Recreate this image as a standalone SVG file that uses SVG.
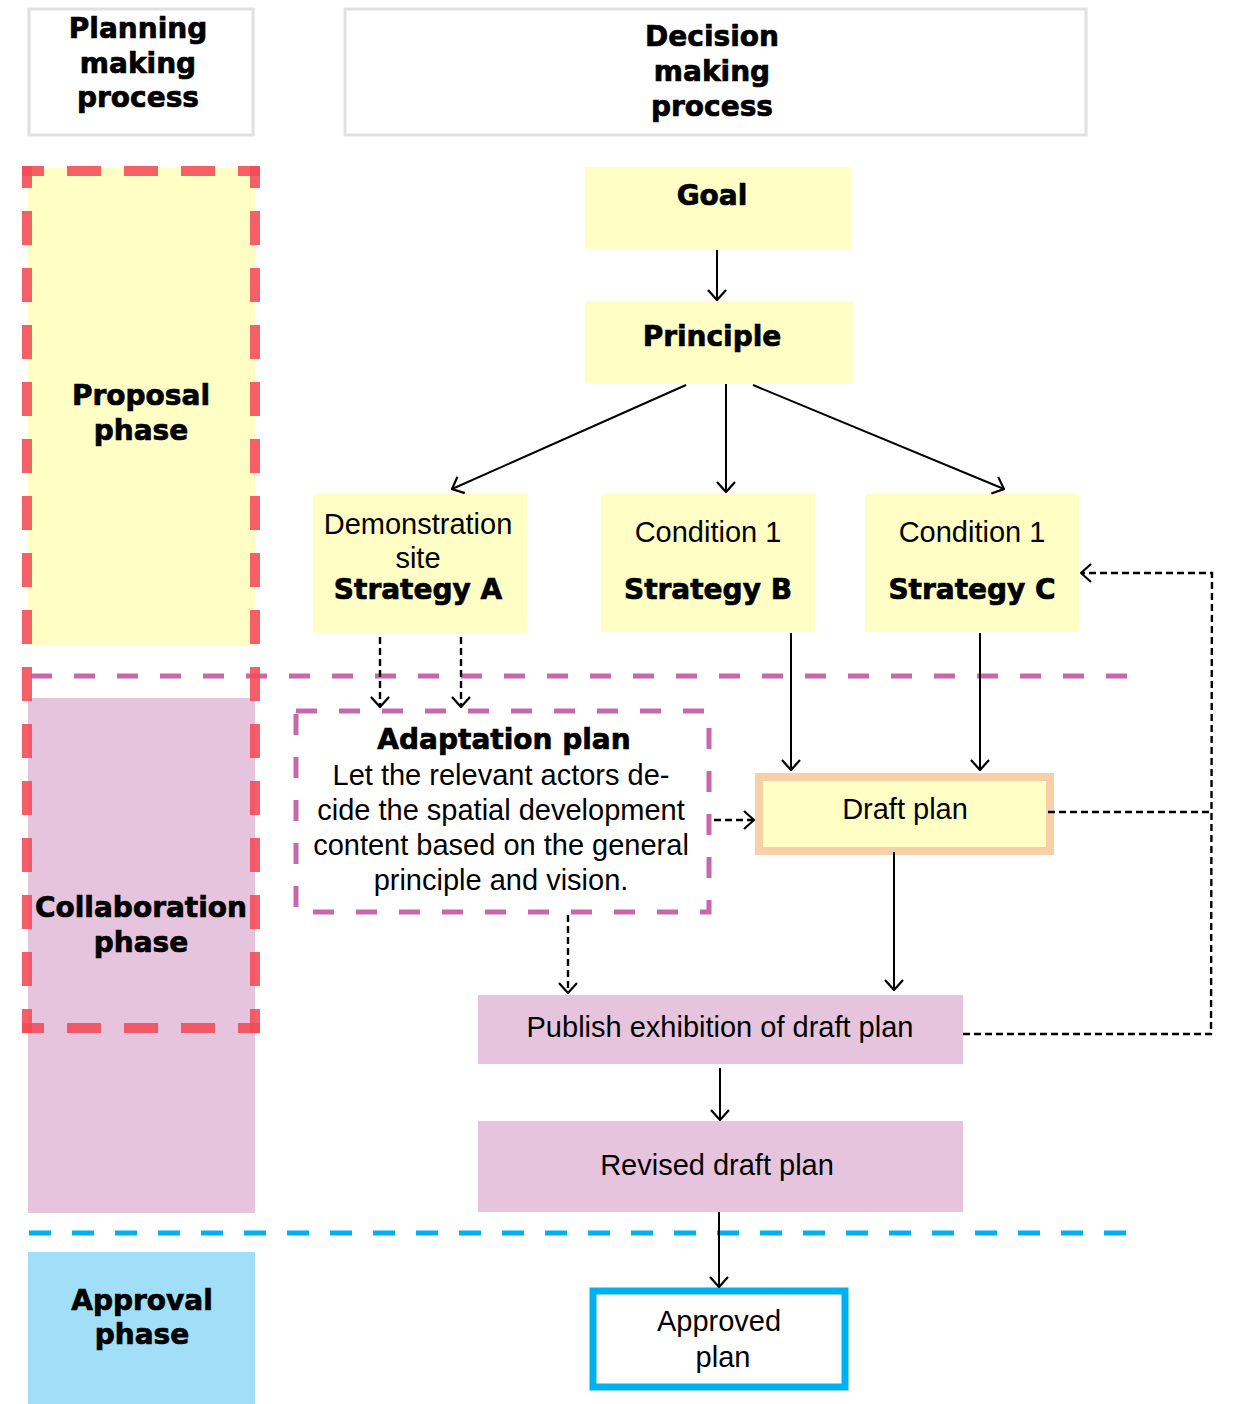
<svg xmlns="http://www.w3.org/2000/svg" width="1233" height="1404" viewBox="0 0 1233 1404">
<defs>
<style>
.hdr{fill:#fff;stroke:#e0e0e0;stroke-width:3}
.b{font-family:"DejaVu Sans",sans-serif;font-weight:bold;font-size:28px;fill:#000;stroke:#000;stroke-width:0.7;text-anchor:middle}
.r{font-family:"Liberation Sans",Arial,sans-serif;font-size:29px;fill:#000;text-anchor:middle}
.yel{fill:#ffffc5}
.pink{fill:#e7c4de}
.red{stroke:#f24a55;stroke-opacity:0.88;stroke-width:10;stroke-dasharray:34 23;stroke-dashoffset:12;fill:none}
.pur{stroke:#c868ac;stroke-width:5;stroke-dasharray:21 22;fill:none}
.c{stroke:#000;stroke-width:2;fill:none}
.d{stroke:#000;stroke-width:2.4;fill:none;stroke-dasharray:7 4}
.a{marker-end:url(#ah)}
</style>
<marker id="ah" viewBox="0 0 12 20" refX="11" refY="10" markerWidth="12" markerHeight="20" markerUnits="userSpaceOnUse" orient="auto">
<path d="M1,1 L11,10 L1,19" fill="none" stroke="#000" stroke-width="2.2"/>
</marker>
</defs>

<g id="phases">
<rect x="28" y="168" width="227" height="478" fill="#ffffc5"/>
<rect x="28" y="698" width="227" height="515" fill="#e7c4de"/>
<rect x="28" y="1252" width="227" height="152" fill="#a0dff7"/>
<line x1="31" y1="676" x2="1130" y2="676" class="pur"/>
<line x1="29" y1="1233" x2="1130" y2="1233" stroke="#00b0f0" stroke-width="5" stroke-dasharray="22 21"/>
<line x1="22" y1="171" x2="260" y2="171" class="red"/>
<line x1="22" y1="1028" x2="260" y2="1028" class="red"/>
<line x1="27" y1="166" x2="27" y2="1033" class="red"/>
<line x1="255" y1="166" x2="255" y2="1033" class="red"/>
</g>

<g id="header-planning">
<rect x="29" y="9" width="224" height="126" class="hdr"/>
<text class="b" x="138" y="38">Planning</text>
<text class="b" x="138" y="73">making</text>
<text class="b" x="138" y="107">process</text>
</g>
<g id="header-decision">
<rect x="345" y="9" width="741" height="126" class="hdr"/>
<text class="b" x="712" y="46">Decision</text>
<text class="b" x="712" y="81">making</text>
<text class="b" x="712" y="116">process</text>
</g>

<g id="label-proposal">
<text class="b" x="141" y="405">Proposal</text>
<text class="b" x="141" y="440">phase</text>
</g>
<g id="label-collaboration">
<text class="b" x="141" y="917">Collaboration</text>
<text class="b" x="141" y="952">phase</text>
</g>
<g id="label-approval">
<text class="b" x="142" y="1310">Approval</text>
<text class="b" x="142" y="1344">phase</text>
</g>

<g id="goal">
<rect x="585" y="167" width="267" height="82" class="yel"/>
<text class="b" x="712" y="205">Goal</text>
</g>
<g id="principle">
<rect x="585" y="301" width="268" height="82" class="yel"/>
<text class="b" x="712" y="346">Principle</text>
</g>
<g id="strategy-a">
<rect x="313" y="494" width="214" height="139" class="yel"/>
<text class="r" x="418" y="534">Demonstration</text>
<text class="r" x="418" y="568">site</text>
<text class="b" x="418" y="599">Strategy A</text>
</g>
<g id="strategy-b">
<rect x="601" y="494" width="214" height="138" class="yel"/>
<text class="r" x="708" y="542">Condition 1</text>
<text class="b" x="708" y="599">Strategy B</text>
</g>
<g id="strategy-c">
<rect x="865" y="494" width="214" height="138" class="yel"/>
<text class="r" x="972" y="542">Condition 1</text>
<text class="b" x="972" y="599">Strategy C</text>
</g>
<g id="adaptation-plan">
<rect x="296" y="711" width="413" height="201" fill="#fff" class="pur"/>
<text class="b" x="504" y="749">Adaptation plan</text>
<text class="r" x="501" y="785">Let the relevant actors de-</text>
<text class="r" x="501" y="820">cide the spatial development</text>
<text class="r" x="501" y="855">content based on the general</text>
<text class="r" x="501" y="890">principle and vision.</text>
</g>
<g id="draft-plan">
<rect x="759" y="777" width="291" height="74" fill="#ffffc5" stroke="#f8d0a8" stroke-width="8"/>
<text class="r" x="905" y="819">Draft plan</text>
</g>
<g id="publish">
<rect x="478" y="995" width="485" height="69" class="pink"/>
<text class="r" x="720" y="1037">Publish exhibition of draft plan</text>
</g>
<g id="revised">
<rect x="478" y="1121" width="485" height="91" class="pink"/>
<text class="r" x="717" y="1175">Revised draft plan</text>
</g>
<g id="approved">
<rect x="593" y="1291" width="252" height="96" fill="#fff" stroke="#00b0f0" stroke-width="7"/>
<text class="r" x="719" y="1331">Approved</text>
<text class="r" x="723" y="1367">plan</text>
</g>

<g id="connectors">
<line x1="717" y1="250" x2="717" y2="300" class="c a"/>
<line x1="686" y1="385" x2="452" y2="489" class="c a"/>
<line x1="726" y1="384" x2="726" y2="492" class="c a"/>
<line x1="753" y1="385" x2="1004" y2="489" class="c a"/>
<line x1="380" y1="637" x2="380" y2="707" class="d a"/>
<line x1="461" y1="637" x2="461" y2="707" class="d a"/>
<line x1="791" y1="633" x2="791" y2="770" class="c a"/>
<line x1="980" y1="633" x2="980" y2="770" class="c a"/>
<line x1="714" y1="820" x2="754" y2="820" class="d a"/>
<line x1="894" y1="852" x2="894" y2="990" class="c a"/>
<line x1="568" y1="915" x2="568" y2="993" class="d a"/>
<line x1="720" y1="1068" x2="720" y2="1120" class="c a"/>
<line x1="719" y1="1212" x2="719" y2="1287" class="c a"/>
<line x1="1048" y1="812" x2="1212" y2="812" class="d"/>
<path d="M963,1034 L1211,1034 L1212,573 L1081,573" class="d a"/>
</g>
</svg>
